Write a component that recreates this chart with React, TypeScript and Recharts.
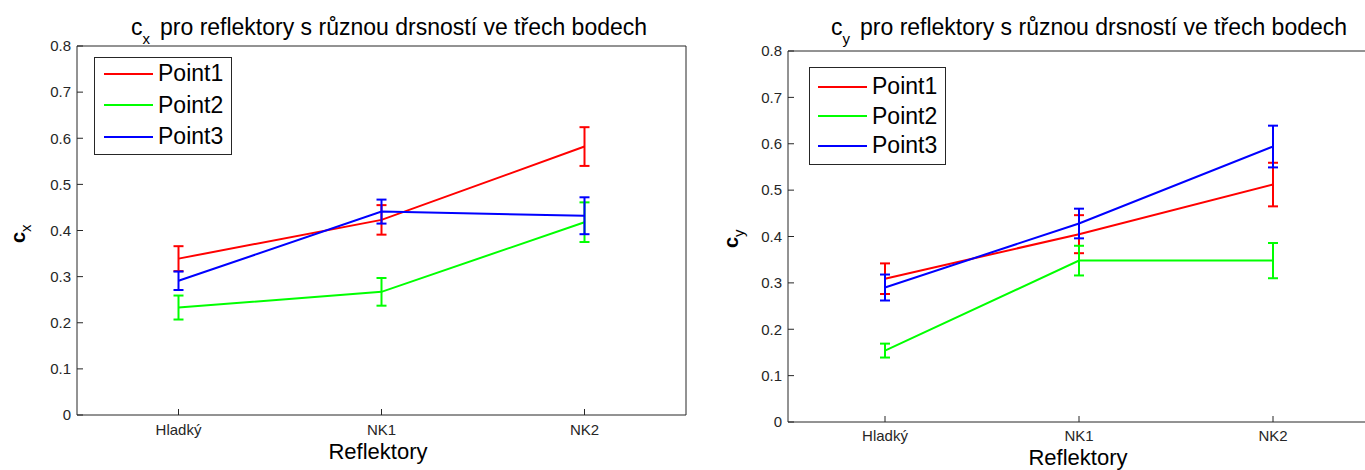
import React from "react";
import { LineChart, Line, XAxis, YAxis, ErrorBar, Legend } from "recharts";

// Reflector categories on the x axis (placed at 1, 2, 3 like the original plot)
const categories = ["Hladký", "NK1", "NK2"];
const categoryPositions = [1, 2, 3];
const yTicks = [0, 0.1, 0.2, 0.3, 0.4, 0.5, 0.6, 0.7, 0.8];

const seriesNames = ["Point1", "Point2", "Point3"];
const seriesColors = ["#ff0000", "#00ff00", "#0000ff"];

// c_x values and error bar half-lengths
const cxPoint1 = [0.339, 0.423, 0.582];
const cxPoint2 = [0.233, 0.267, 0.418];
const cxPoint3 = [0.291, 0.441, 0.432];
const cxErr1 = [0.027, 0.032, 0.042];
const cxErr2 = [0.026, 0.03, 0.043];
const cxErr3 = [0.02, 0.026, 0.04];

// c_y values and error bar half-lengths
const cyPoint1 = [0.309, 0.405, 0.512];
const cyPoint2 = [0.154, 0.348, 0.348];
const cyPoint3 = [0.29, 0.428, 0.594];
const cyErr1 = [0.033, 0.041, 0.047];
const cyErr2 = [0.015, 0.032, 0.038];
const cyErr3 = [0.028, 0.032, 0.045];

const AXIS = "#262626";
const SANS = "'Liberation Sans', Arial, sans-serif";

function buildRows(values: number[][], errors: number[][]) {
    return categoryPositions.map((pos, i) => {
        const row: Record<string, number> = { pos };
        values.forEach((v, s) => {
            row[`p${s}`] = v[i];
            row[`e${s}`] = errors[s][i];
        });
        return row;
    });
}

const cxRows = buildRows([cxPoint1, cxPoint2, cxPoint3], [cxErr1, cxErr2, cxErr3]);
const cyRows = buildRows([cyPoint1, cyPoint2, cyPoint3], [cyErr1, cyErr2, cyErr3]);

interface PanelConfig {
    left: number;
    top: number;
    leftWidth: number;
    rightWidth: number;
    bottomHeight: number;
    xTickMargin: number;
    legend: { left: number; top: number; width: number; height: number; padTop: number; row: number; lineLeft: number };
    title: { left: number; top: number; sub: string };
    yLabel: { left: number; top: number; sub: string };
    xLabel: { center: number; top: number };
}

const leftPanel: PanelConfig = {
    left: 0,
    top: 46,
    leftWidth: 77,
    rightWidth: 14,
    bottomHeight: 55,
    xTickMargin: 15,
    legend: { left: 94, top: 57, width: 138, height: 98, padTop: 0, row: 31.5, lineLeft: 9 },
    title: { left: 131, top: 16, sub: "x" },
    yLabel: { left: 8, top: 243, sub: "x" },
    xLabel: { center: 378, top: 441 },
};

const rightPanel: PanelConfig = {
    left: 700,
    top: 51,
    leftWidth: 88,
    rightWidth: 30,
    bottomHeight: 48,
    xTickMargin: 14,
    legend: { left: 109, top: 67, width: 137, height: 98, padTop: 4, row: 29.5, lineLeft: 8 },
    title: { left: 131, top: 16, sub: "y" },
    yLabel: { left: 21, top: 248, sub: "y" },
    xLabel: { center: 378, top: 447 },
};

function Panel({ rows, cfg }: { rows: Record<string, number>[]; cfg: PanelConfig }) {
    const lg = cfg.legend;

    const renderLegend = (props: any) => (
        <div style={{
            width: lg.width,
            height: lg.height,
            boxSizing: 'border-box',
            border: `1px solid ${AXIS}`,
            background: '#fff',
            paddingTop: lg.padTop,
        }}>
            {(props.payload || []).map((item: any) => (
                <div key={item.value} style={{ display: 'flex', alignItems: 'center', height: lg.row }}>
                    <div style={{ marginLeft: lg.lineLeft, width: 49, height: 2, background: item.color }} />
                    <span style={{ marginLeft: 5, fontFamily: SANS, fontSize: 23, color: '#000', lineHeight: 1 }}>
                        {item.value}
                    </span>
                </div>
            ))}
        </div>
    );

    return (
        <div style={{ position: 'absolute', left: cfg.left, top: 0, width: 700, height: 470 }}>
            <LineChart
                width={700}
                height={470}
                data={rows}
                margin={{ top: cfg.top - 1, right: 0, bottom: 0, left: 0 }}
            >
                <XAxis
                    dataKey="pos"
                    type="number"
                    domain={[0.5, 3.5]}
                    ticks={categoryPositions}
                    interval={0}
                    tickFormatter={(v) => categories[v - 1]}
                    height={cfg.bottomHeight}
                    tickSize={-6}
                    tickMargin={cfg.xTickMargin}
                    stroke={AXIS}
                    tick={{ fill: AXIS, fontSize: 15, fontFamily: SANS }}
                />
                <XAxis
                    xAxisId="top"
                    orientation="top"
                    type="number"
                    domain={[0.5, 3.5]}
                    ticks={categoryPositions}
                    interval={0}
                    tick={false}
                    tickSize={-6}
                    height={1}
                    stroke={AXIS}
                />
                <YAxis
                    type="number"
                    domain={[0, 0.8]}
                    ticks={yTicks}
                    interval={0}
                    width={cfg.leftWidth}
                    tickSize={-6}
                    tickMargin={12}
                    stroke={AXIS}
                    tick={{ fill: AXIS, fontSize: 15, fontFamily: SANS }}
                />
                <YAxis
                    yAxisId="right"
                    orientation="right"
                    type="number"
                    domain={[0, 0.8]}
                    ticks={yTicks}
                    interval={0}
                    tick={false}
                    tickSize={-6}
                    width={cfg.rightWidth}
                    stroke={AXIS}
                />
                <Legend
                    layout="vertical"
                    align="center"
                    verticalAlign="middle"
                    content={renderLegend}
                    wrapperStyle={{ left: lg.left, top: lg.top, width: lg.width, height: lg.height }}
                />
                {seriesNames.map((name, s) => (
                    <Line
                        key={name}
                        dataKey={`p${s}`}
                        name={name}
                        stroke={seriesColors[s]}
                        strokeWidth={2}
                        dot={false}
                        activeDot={false}
                        isAnimationActive={false}
                    >
                        <ErrorBar dataKey={`e${s}`} width={5} strokeWidth={2} stroke={seriesColors[s]} direction="y" isAnimationActive={false} />
                    </Line>
                ))}
            </LineChart>

            {/* title */}
            <div style={{
                position: 'absolute', left: cfg.title.left, top: cfg.title.top,
                fontFamily: SANS, fontSize: 23, lineHeight: '23px', whiteSpace: 'nowrap', color: '#000',
            }}>
                c<span style={{ fontSize: 15, position: 'relative', top: 9, marginRight: 10 }}>{cfg.title.sub}</span>pro reflektory s různou drsností ve třech bodech
            </div>

            {/* y label */}
            <div style={{
                position: 'absolute', left: cfg.yLabel.left, top: cfg.yLabel.top,
                transform: 'rotate(-90deg)', transformOrigin: 'left top',
                fontFamily: SANS, fontSize: 20, lineHeight: '20px', whiteSpace: 'nowrap', color: '#000',
            }}>
                <span style={{ fontWeight: 'bold' }}>c</span>
                <span style={{ fontSize: 15, position: 'relative', top: 6 }}>{cfg.yLabel.sub}</span>
            </div>

            {/* x label */}
            <div style={{
                position: 'absolute', left: cfg.xLabel.center, top: cfg.xLabel.top,
                transform: 'translateX(-50%)',
                fontFamily: SANS, fontSize: 22, lineHeight: '22px', whiteSpace: 'nowrap', color: '#000',
            }}>
                Reflektory
            </div>
        </div>
    );
}

export default function App() {
    return (
        <div style={{
            position: 'absolute', left: 0, top: 0, width: 1365, height: 470,
            overflow: 'hidden', background: '#fff',
        }}>
            <Panel rows={cxRows} cfg={leftPanel} />
            <Panel rows={cyRows} cfg={rightPanel} />
        </div>
    );
}
